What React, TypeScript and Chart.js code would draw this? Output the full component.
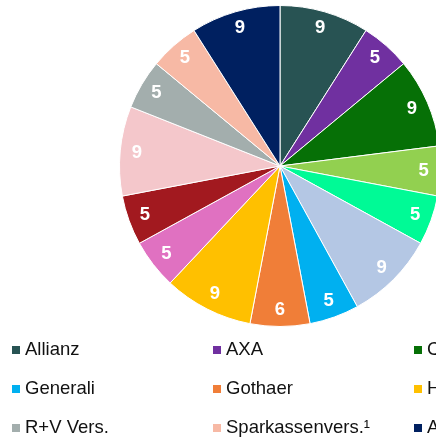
import React, { useEffect, useRef } from "react";
import { Chart, registerables } from "chart.js";

Chart.register(...registerables);

const categories = [
  "Allianz",
  "AXA",
  "Continentale",
  "Debeka",
  "DEVK",
  "ERGO",
  "Generali",
  "Gothaer",
  "HUK-Coburg",
  "LVM",
  "Nürnberger",
  "Provinzial",
  "R+V Vers.",
  "Sparkassenvers.¹",
  "Andere",
];

const values = [9, 5, 9, 5, 5, 9, 5, 6, 9, 5, 5, 9, 5, 5, 9];

const colors = [
  "#285353",
  "#7030A0",
  "#067006",
  "#92D050",
  "#00FA96",
  "#B4C7E4",
  "#00B0F0",
  "#F07E38",
  "#FFC000",
  "#E071C1",
  "#A2191F",
  "#F4C7CB",
  "#A3AEAD",
  "#F7B9A5",
  "#002060",
];

const legendColumns = 6;

export default function App() {
  const ref = useRef<HTMLCanvasElement>(null);

  useEffect(() => {
    const W = 1250;
    const labelPlugin = {
      id: "sliceLabels",
      afterDatasetsDraw(chart: any) {
        const ctx = chart.ctx;
        const meta = chart.getDatasetMeta(0);
        ctx.save();
        ctx.fillStyle = "#ffffff";
        ctx.font = "bold 18.5px 'Liberation Sans', Arial, sans-serif";
        ctx.textAlign = "center";
        ctx.textBaseline = "middle";
        meta.data.forEach((arc: any, i: number) => {
          const p = arc.getProps(["x", "y", "startAngle", "endAngle", "outerRadius"], true);
          const a = (p.startAngle + p.endAngle) / 2;
          const r = p.outerRadius * 0.895;
          ctx.fillText(String(values[i]), p.x + Math.cos(a) * r, p.y + Math.sin(a) * r);
        });
        ctx.restore();
      },
    };
    const legendPlugin = {
      id: "gridLegend",
      afterDraw(chart: any) {
        const ctx = chart.ctx;
        ctx.save();
        ctx.font = "18.5px 'Liberation Sans', Arial, sans-serif";
        ctx.textBaseline = "middle";
        ctx.textAlign = "left";
        categories.forEach((name, i) => {
          const col = i % legendColumns;
          const row = Math.floor(i / legendColumns);
          const x = 12 + col * 201;
          const y = 350 + row * 39;
          ctx.fillStyle = colors[i];
          ctx.fillRect(x, y - 4, 8, 8);
          ctx.fillStyle = "#111111";
          ctx.fillText(name, x + 13, y);
        });
        ctx.restore();
      },
    };
    const chart = new Chart(ref.current as HTMLCanvasElement, {
      type: "pie",
      data: {
        labels: categories,
        datasets: [
          {
            data: values,
            backgroundColor: colors,
            borderColor: "#ffffff",
            borderWidth: 1,
          },
        ],
      },
      options: {
        responsive: false,
        animation: false,
        layout: { padding: { top: 5, bottom: 112, left: 119, right: W - 441 } },
        plugins: {
          legend: { display: false },
          tooltip: { enabled: false },
        },
      },
      plugins: [labelPlugin, legendPlugin],
    });
    return () => chart.destroy();
  }, []);

  return (
    <div
      style={{
        position: "absolute",
        left: 0,
        top: 0,
        width: 436,
        height: 439,
        overflow: "hidden",
        background: "#ffffff",
      }}
    >
      <canvas ref={ref} width={1250} height={439} style={{ display: "block" }} />
    </div>
  );
}
